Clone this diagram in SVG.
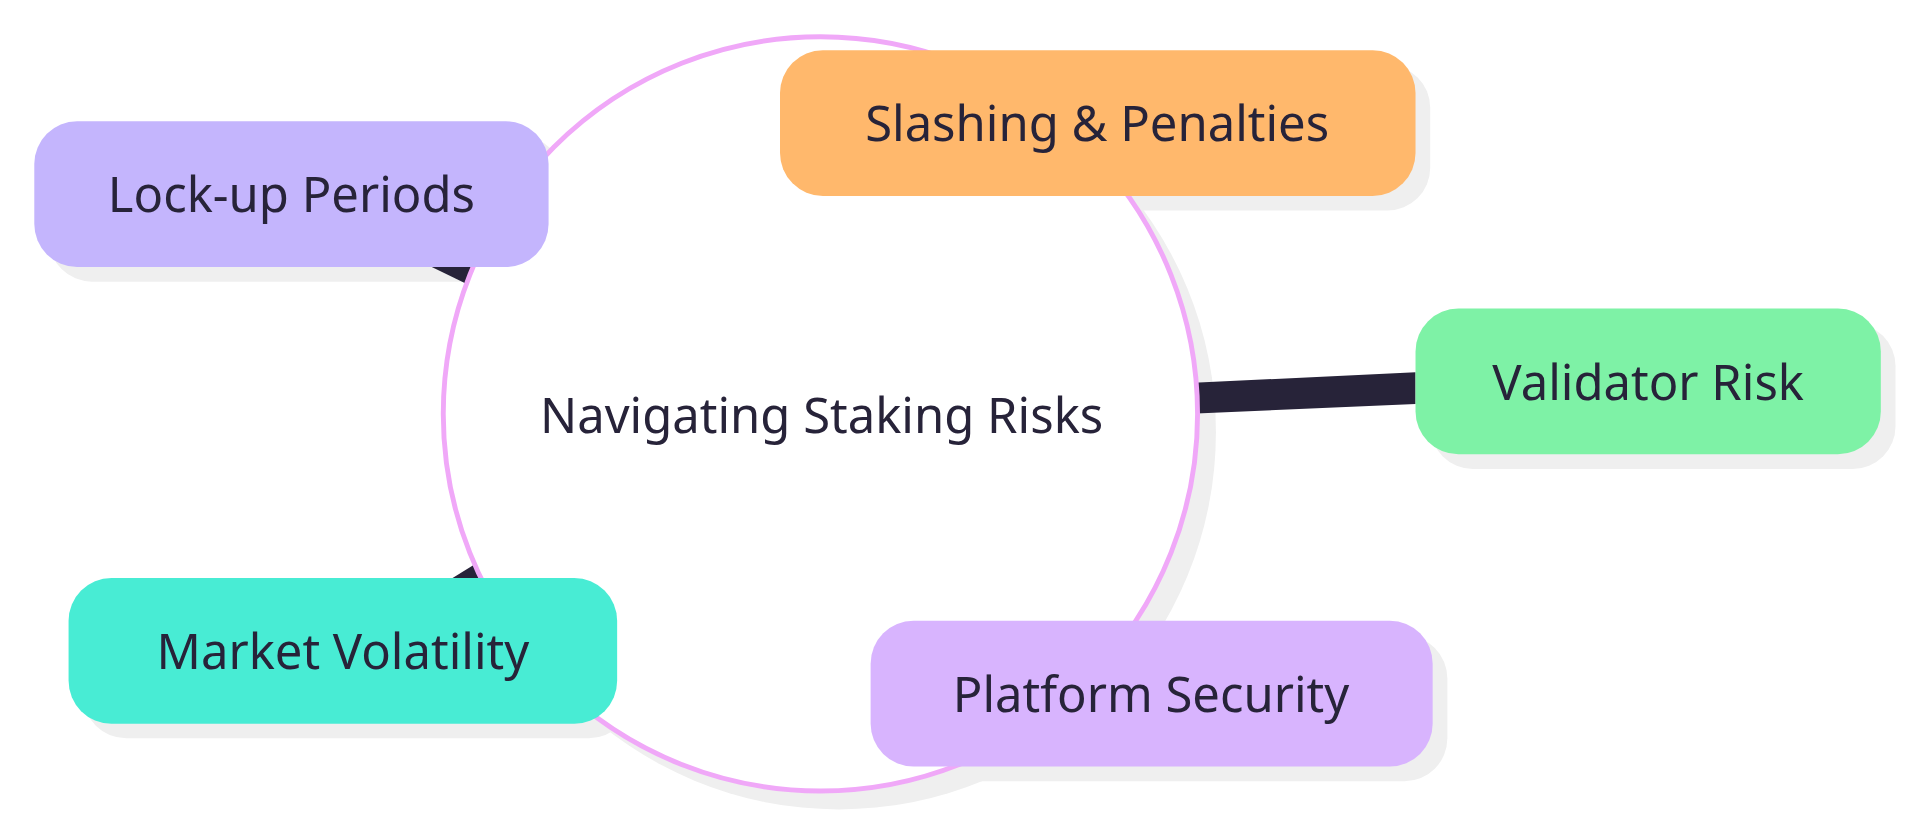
<svg xmlns="http://www.w3.org/2000/svg" width="1920" height="833" viewBox="0 0 1920 833">
<style>
.sh{fill:#efefef}
.t{font-family:"Noto Sans",sans-serif;font-size:40px;fill:#272339;text-anchor:middle;dominant-baseline:central}
.c{fill:#272339}
</style>
<rect width="1920" height="833" fill="#fff"/>
<g transform="scale(1.2245)">
<g id="shadows">
<circle class="sh" cx="685" cy="353" r="308"/>
<rect class="sh" x="40" y="111" width="420" height="119" rx="35"/>
<rect class="sh" x="649" y="53" width="519" height="119" rx="35"/>
<rect class="sh" x="1168" y="264" width="380" height="119" rx="35"/>
<rect class="sh" x="68" y="484" width="448" height="119" rx="35"/>
<rect class="sh" x="723" y="519" width="459" height="119" rx="35"/>
</g>
<g id="connectors">
<polygon class="c" points="670,327 1156,304 1156,330 670,351"/>
<polygon class="c" points="340,212 352,200 410,228 398,240"/>
<polygon class="c" points="360,478 368,486 410,462 402,452"/>
</g>
<g id="center">
<circle cx="670" cy="338" r="308" fill="#fff" stroke="#f0a8f8" stroke-width="4"/>
<text class="t" x="671" y="338">Navigating Staking Risks</text>
</g>
<g id="lockup"><rect x="28" y="99" width="420" height="119" rx="35" fill="#c4b5fd"/><text class="t" x="238" y="158">Lock-up Periods</text></g>
<g id="slashing"><rect x="637" y="41" width="519" height="119" rx="35" fill="#ffb86c"/><text class="t" x="896" y="100">Slashing &amp; Penalties</text></g>
<g id="validator"><rect x="1156" y="252" width="380" height="119" rx="35" fill="#7ef2a6"/><text class="t" x="1346" y="311">Validator Risk</text></g>
<g id="market"><rect x="56" y="472" width="448" height="119" rx="35" fill="#48ecd4"/><text class="t" x="280" y="531">Market Volatility</text></g>
<g id="platform"><rect x="711" y="507" width="459" height="119" rx="35" fill="#d8b4fe"/><text class="t" x="940" y="566">Platform Security</text></g>
</g>
</svg>
